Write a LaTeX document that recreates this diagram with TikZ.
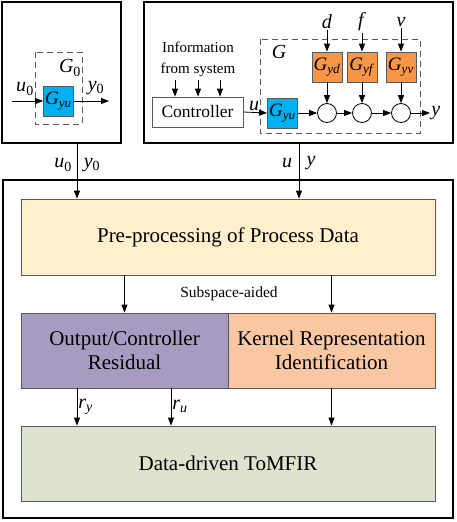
\documentclass[tikz,border=0pt]{standalone}
\usepackage{fontspec}
\setmainfont{Liberation Serif}
\usepackage{tikz}
\usetikzlibrary{arrows.meta}
\definecolor{azul}{HTML}{00B0F0}
\definecolor{laranja}{HTML}{F79646}
\definecolor{creme}{HTML}{FFF0CD}
\definecolor{lilas}{HTML}{A89BC2}
\definecolor{salmao}{HTML}{F9C8A2}
\definecolor{oliva}{HTML}{DDE3CE}
\definecolor{gray700}{HTML}{595959}
\tikzstyle{quadro}=[rectangle, draw=black, line width=1.5pt, inner sep=0pt]
\tikzstyle{bloco}=[rectangle, draw=gray700, line width=0.8pt, inner sep=0pt, align=center, font=\fontsize{21}{24.5}\selectfont]
\tikzstyle{planta}=[rectangle, draw=gray700, line width=0.8pt, inner sep=0pt, minimum width=30pt, minimum height=30pt, font=\fontsize{19}{22}\selectfont]
\tikzstyle{somador}=[circle, draw=black, fill=white, line width=0.8pt, minimum size=19pt, inner sep=0pt]
\tikzstyle{tracejado}=[draw=gray700, dash pattern=on 6pt off 4pt, line width=0.9pt]
\tikzstyle{rotulo}=[inner sep=1pt, font=\fontsize{20}{22}\selectfont]
\newcommand{\sinal}[2]{\textit{#1}\textsubscript{\textit{#2}}}

\begin{document}
\begin{tikzpicture}[x=1pt, y=-1pt, >={Triangle[length=8pt,width=6pt]}, line width=0.8pt]
			\useasboundingbox (0,0) rectangle (456,522);
			% quadros externos
			\node[quadro, minimum width=119pt, minimum height=141pt] (qa) at (61.5,72.5) {};
			\node[quadro, minimum width=309pt, minimum height=141pt] (qb) at (298.5,72.5) {};
			\node[quadro, minimum width=450pt, minimum height=338pt] (qc) at (228,349) {};
			% sistema G0
			\draw[tracejado] (35,52) rectangle (82,124);
			\node[rotulo] (lg0) at (70,68) {\textit{G}\textsubscript{0}};
			\node[planta, fill=azul] (g0) at (58.5,101) {\sinal{G}{yu}};
			\coordinate (u0in) at (12,101);
			\coordinate (y0out) at (109,101);
			\draw[->] (u0in) -- (g0.west);
			\draw[->] (g0.east) -- (y0out);
			\node[rotulo] (lu0) at (25,89) {\textit{u}\textsubscript{0}};
			\node[rotulo] (ly0) at (96,88) {\textit{y}\textsubscript{0}};
			% sistema G com controlador
			\node[align=center, font=\fontsize{15}{21}\selectfont] (info) at (198,59) {Information\\from system};
			\node[bloco, fill=white, minimum width=91pt, minimum height=30pt, font=\fontsize{17.5}{20}\selectfont] (ctrl) at (197.5,112) {Controller};
			\foreach \dx in {-23,0,22}
				\draw[->] ([xshift=\dx pt]info.south) -- ([xshift=\dx pt]info.south |- ctrl.north);
			\draw[tracejado] (260,39) rectangle (420,133);
			\node[rotulo] (lg) at (279,52) {\textit{G}};
			\node[planta, fill=azul] (gyu) at (282.5,113) {\sinal{G}{yu}};
			\node[somador] (s1) at (327,113) {};
			\node[somador] (s2) at (362,113) {};
			\node[somador] (s3) at (401,113) {};
			\node[planta, fill=laranja] (gyd) at (327,67) {\sinal{G}{yd}};
			\node[planta, fill=laranja] (gyf) at (362,67) {\sinal{G}{yf}};
			\node[planta, fill=laranja] (gyv) at (401,67) {\sinal{G}{yv}};
			\node[rotulo] (d) at (327,22) {\textit{d}};
			\node[rotulo] (f) at (362,22) {\textit{f}};
			\node[rotulo] (v) at (401,22) {\textit{v}};
			\coordinate (yout) at (430,113);
			\draw[->] (ctrl.east) -- (gyu.west) node[rotulo, pos=0.45, above] {\textit{u}};
			\draw[->] (gyu) -- (s1);
			\draw[->] (s1) -- (s2);
			\draw[->] (s2) -- (s3);
			\draw[->] (s3) -- (yout) node[rotulo, right] {\textit{y}};
			\draw[->] (d) -- (gyd);
			\draw[->] (f) -- (gyf);
			\draw[->] (v) -- (gyv);
			\draw[->] (gyd) -- (s1);
			\draw[->] (gyf) -- (s2);
			\draw[->] (gyv) -- (s3);
			% blocos do metodo
			\node[bloco, fill=creme, minimum width=414pt, minimum height=76pt] (pre) at (228,237) {Pre-processing of Process Data};
			\node[bloco, fill=lilas, minimum width=207pt, minimum height=75pt] (res) at (124.5,350.5) {Output/Controller\\Residual};
			\node[bloco, fill=salmao, minimum width=207pt, minimum height=75pt] (kern) at (331.5,350.5) {Kernel Representation\\Identification};
			\node[bloco, fill=oliva, minimum width=414pt, minimum height=75pt] (tomfir) at (228,463.5) {Data-driven ToMFIR};
			\node[font=\fontsize{15.5}{18}\selectfont] (sub) at (229,294) {Subspace-aided};
			\coordinate (ry) at (77,388);
			\coordinate (ru) at (171,388);
			\coordinate (uy) at (299,143);
			\draw[->] (qa.south -| ry) -- (pre.north -| ry);
			\node[rotulo] (lu0b) at (63,165) {\textit{u}\textsubscript{0}};
			\node[rotulo] (ly0b) at (92,165) {\textit{y}\textsubscript{0}};
			\draw[->] (uy) -- (uy |- pre.north);
			\node[rotulo] (lub) at (287,163) {\textit{u}};
			\node[rotulo] (lyb) at (311,163) {\textit{y}};
			\draw[->] (pre.south -| res.north) -- (res.north);
			\draw[->] (pre.south -| kern.north) -- (kern.north);
			\draw[->] (ry) -- (ry |- tomfir.north) node[rotulo, midway, right] {\sinal{r}{y}};
			\draw[->] (ru) -- (ru |- tomfir.north) node[rotulo, midway, right] {\sinal{r}{u}};
			\draw[->] (kern.south) -- (kern.south |- tomfir.north);
		\end{tikzpicture}
\end{document}
